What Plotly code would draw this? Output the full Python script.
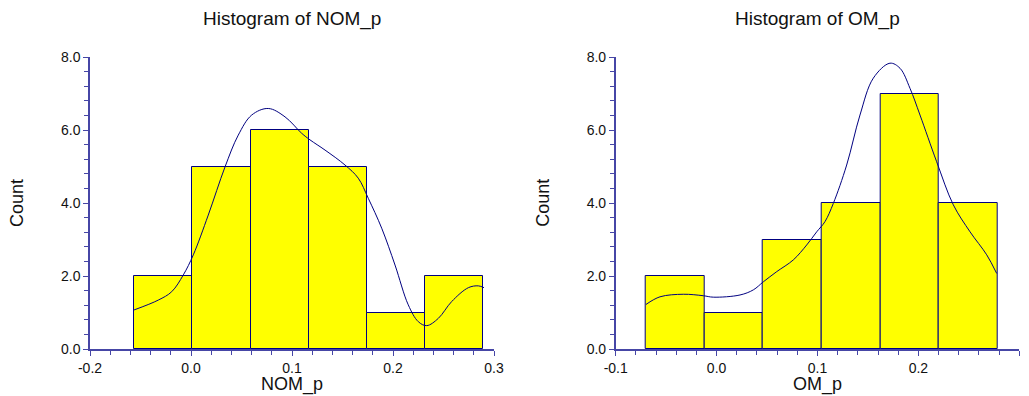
import plotly.graph_objects as go

# ---- data ----
nom_edges = [-0.0567, 0.0010, 0.0591, 0.1168, 0.1746, 0.2320, 0.2894]
nom_counts = [2, 5, 6, 5, 1, 2]
nom_curve_x = [-0.0564, -0.0324, -0.0191, -0.0076, 0.0023, 0.0171, 0.0337, 0.0468, 0.0601,
               0.0765, 0.0931, 0.1096, 0.1178, 0.1327, 0.1525, 0.1656, 0.1755, 0.1888,
               0.2020, 0.2151, 0.2250, 0.2334, 0.2449, 0.2581, 0.2746, 0.2845, 0.2901]
nom_curve_y = [1.07, 1.34, 1.57, 2.03, 2.58, 3.67, 4.99, 5.86, 6.41,
               6.59, 6.36, 5.91, 5.73, 5.45, 5.04, 4.68, 4.13, 3.31,
               2.30, 1.21, 0.75, 0.64, 0.84, 1.30, 1.68, 1.73, 1.68]

om_edges = [-0.0703, -0.0122, 0.0459, 0.1041, 0.1622, 0.2203, 0.2784]
om_counts = [2, 1, 3, 4, 7, 4]
om_curve_x = [-0.0700, -0.0561, -0.0330, -0.0132, -0.0033, 0.0232, 0.0364, 0.0463, 0.0596,
              0.0760, 0.0893, 0.0992, 0.1074, 0.1157, 0.1289, 0.1421, 0.1553, 0.1718,
              0.1818, 0.1917, 0.2016, 0.2181, 0.2346, 0.2512, 0.2677, 0.2776]
om_curve_y = [1.22, 1.43, 1.50, 1.46, 1.42, 1.48, 1.62, 1.84, 2.12,
              2.44, 2.85, 3.21, 3.49, 3.99, 5.04, 6.41, 7.42, 7.83,
              7.69, 7.14, 6.41, 5.13, 3.95, 3.21, 2.58, 2.07]

y_ticks = [0, 2, 4, 6, 8]
y_ticktext = ["0.0", "2.0", "4.0", "6.0", "8.0"]
x_ticks = [-0.1, 0.0, 0.1, 0.2, 0.3]
nom_x_ticktext = ["-0.2", "0.0", "0.1", "0.2", "0.3"]
om_x_ticktext = ["-0.1", "0.0", "0.1", "0.2", "0.3"]

titles = ["Histogram of NOM_p", "Histogram of OM_p"]
x_titles = ["NOM_p", "OM_p"]
y_title = "Count"

NAVY = "#000080"
AXIS = "#4646a6"
TXT = "#111111"
FONT = "Liberation Sans, Arial, sans-serif"

fig = go.Figure()

def add_panel(edges, counts, cx, cy, xa, ya):
    centers = [(edges[i] + edges[i + 1]) / 2 for i in range(len(counts))]
    widths = [edges[i + 1] - edges[i] for i in range(len(counts))]
    fig.add_trace(go.Bar(x=centers, y=counts, width=widths,
                         marker=dict(color="#FFFF00", line=dict(color=NAVY, width=1)),
                         xaxis=xa, yaxis=ya, showlegend=False, hoverinfo="skip"))
    fig.add_trace(go.Scatter(x=cx, y=cy, mode="lines",
                             line=dict(color=NAVY, width=1, shape="spline", smoothing=1.0),
                             xaxis=xa, yaxis=ya, showlegend=False, hoverinfo="skip"))

add_panel(nom_edges, nom_counts, nom_curve_x, nom_curve_y, "x", "y")
add_panel(om_edges, om_counts, om_curve_x, om_curve_y, "x2", "y2")

W, H = 1029, 396
ydom = [1 - 349 / H, 1 - 57 / H]
xdoms = [[90 / W, 494 / W], [615.7 / W, 1019.3 / W]]

def xaxis_cfg(dom, ticktext, anchor):
    return dict(domain=dom, range=[-0.1, 0.3], anchor=anchor, automargin=False,
                tickvals=x_ticks, ticktext=ticktext,
                showgrid=False, zeroline=False,
                showline=True, linecolor=AXIS, linewidth=1.5,
                ticks="outside", ticklen=5, tickcolor=AXIS, tickwidth=1,
                minor=dict(dtick=0.02, tick0=0, ticks="outside", ticklen=4,
                           tickcolor=AXIS, tickwidth=1, showgrid=False),
                tickfont=dict(family=FONT, size=14, color=TXT))

def yaxis_cfg(anchor):
    return dict(domain=ydom, range=[0, 8], anchor=anchor, automargin=False,
                tickvals=y_ticks, ticktext=y_ticktext,
                showgrid=False, zeroline=False,
                showline=True, linecolor=AXIS, linewidth=1.5,
                ticks="outside", ticklen=5, tickcolor=AXIS, tickwidth=1,
                minor=dict(dtick=0.4, tick0=0, ticks="outside", ticklen=4,
                           tickcolor=AXIS, tickwidth=1, showgrid=False),
                tickfont=dict(family=FONT, size=14, color=TXT))

annotations = []
for i in range(2):
    cx = (xdoms[i][0] + xdoms[i][1]) / 2
    annotations.append(dict(text=titles[i], x=cx, y=1 - 19 / H, xref="paper", yref="paper",
                            showarrow=False, xanchor="center", yanchor="middle",
                            font=dict(family=FONT, size=19, color=TXT)))
    annotations.append(dict(text=x_titles[i], x=cx, y=1 - 384 / H, xref="paper", yref="paper",
                            showarrow=False, xanchor="center", yanchor="middle",
                            font=dict(family=FONT, size=18, color=TXT)))
    annotations.append(dict(text=y_title, x=(xdoms[i][0] * W - 73) / W, y=1 - 203 / H,
                            xref="paper", yref="paper", textangle=-90,
                            showarrow=False, xanchor="center", yanchor="middle",
                            font=dict(family=FONT, size=18, color=TXT)))

fig.update_layout(
    width=W, height=H,
    margin=dict(l=0, r=0, t=0, b=0),
    paper_bgcolor="white", plot_bgcolor="white",
    bargap=0,
    xaxis=xaxis_cfg(xdoms[0], nom_x_ticktext, "y"),
    yaxis=yaxis_cfg("x"),
    xaxis2=xaxis_cfg(xdoms[1], om_x_ticktext, "y2"),
    yaxis2=yaxis_cfg("x2"),
    annotations=annotations,
)

fig.write_html("out.html")
